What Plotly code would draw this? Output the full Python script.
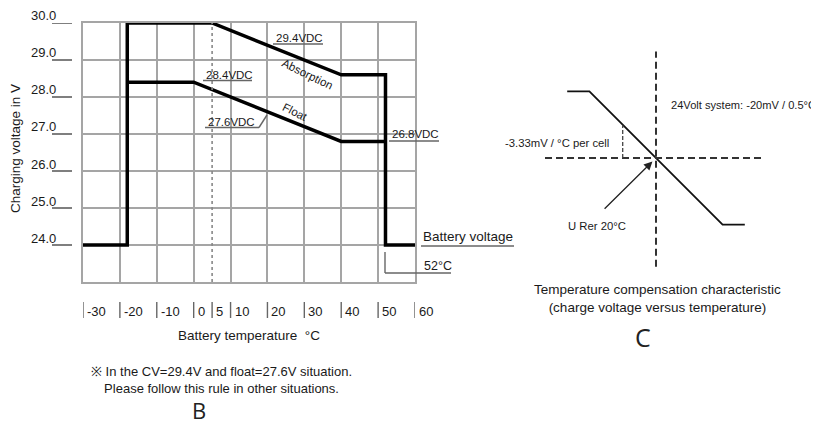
import plotly.graph_objects as go

# charging voltage vs battery temperature (chart B)
abs_temp = [-30, -18, -18, 5, 40, 52, 52, 60]
abs_volt = [24.0, 24.0, 30.0, 30.0, 28.6, 28.6, 24.0, 24.0]
float_temp = [-18, 0, 40, 52]
float_volt = [28.4, 28.4, 26.8, 26.8]
x_ticks = [-30, -20, -10, 0, 5, 10, 20, 30, 40, 50, 60]
y_ticks = [24.0, 25.0, 26.0, 27.0, 28.0, 29.0, 30.0]

# temperature compensation characteristic (chart C), mV per cell around 20 C
comp_temp = [-4, 2, 38, 44]
comp_mv = [60, 60, -60, -60]
ref_temp = 20

# the page body has an 8px margin, so the figure is drawn 8px in from the corner
OFF = 8
W, H = 819 - OFF, 427 - OFF
FONT = 'Liberation Sans, Arial, sans-serif'
TXT = '#1a1a1a'


def px(x):
    return (x - OFF) / W


def py(y):
    return 1 - (y - OFF) / H


fig = go.Figure()

fig.add_trace(go.Scatter(x=abs_temp, y=abs_volt, mode='lines',
                         line=dict(color='black', width=3.5), xaxis='x', yaxis='y'))
fig.add_trace(go.Scatter(x=float_temp, y=float_volt, mode='lines',
                         line=dict(color='black', width=3.5), xaxis='x', yaxis='y'))
fig.add_trace(go.Scatter(x=comp_temp, y=comp_mv, mode='lines',
                         line=dict(color='#111', width=1.8), xaxis='x2', yaxis='y2'))

shapes = []
annotations = []


def line(x0, y0, x1, y1, xref='paper', yref='paper', color='#666', width=1.4, dash='solid'):
    shapes.append(dict(type='line', x0=x0, y0=y0, x1=x1, y1=y1, xref=xref, yref=yref,
                       line=dict(color=color, width=width, dash=dash), layer='above'))


def text(t, x, y, size=11.5, xanchor='left', angle=0, xref='paper', yref='paper',
         color=TXT, family=FONT, yshift=0, xshift=0, yanchor='middle'):
    annotations.append(dict(text=t, x=x, y=y, xref=xref, yref=yref, xanchor=xanchor,
                            yanchor=yanchor, showarrow=False, textangle=angle,
                            yshift=yshift, xshift=xshift,
                            font=dict(size=size, color=color, family=family)))


# dotted 5 C reference line
line(5, 23, 5, 30, xref='x', yref='y', color='#888', width=1.6, dash='dot')

# y tick labels with underline
for v in y_ticks:
    text(f'{v:.1f}', px(58), v, size=13, xanchor='right', yref='y', yshift=7)
    line(px(52), v, px(72), v, yref='y', color='#555', width=1.5)

# x tick labels with bars
for t in x_ticks:
    line(t, py(318), t, py(302), xref='x', color='#666', width=1.4)
    text(str(t), t, py(311), size=13, xref='x', xshift=2)

text('Battery temperature  °C', px(249), py(335), size=13.5, xanchor='center')
text('Charging voltage in V', px(15), py(149), size=13.5, xanchor='center', angle=-90)

# labels on chart B
text('29.4VDC', px(274), py(38))
line(px(273), py(44), px(323), py(44))
text('Absorption', px(307), py(74), size=11.5, xanchor='center', angle=26)
text('28.4VDC', px(204), py(75))
line(px(203), py(80.5), px(252), py(80.5))
text('27.6VDC', px(206), py(122))
line(px(205), py(127.5), px(259), py(127.5))
line(px(259), py(127.5), px(267), py(115))
text('Float', px(295), py(112), size=11.5, xanchor='center', angle=27)
text('26.8VDC', px(390), py(134))
line(px(389), py(141), px(439), py(141))
text('Battery voltage', px(421), py(236), size=13.5)
line(px(421), py(246), px(514), py(246))
text('52°C', px(422), py(266), size=12.5)
line(px(385), py(252), px(385), py(273))
line(px(385), py(273), px(451), py(273))

text('※ In the CV=29.4V and float=27.6V situation.<br>Please follow this rule in other situations.',
     px(222), py(380), size=13, xanchor='center')
text('B', px(199), 0, size=22, xanchor='center', yanchor='bottom',
     family='Open Sans, sans-serif', color='#222')

# chart C decorations
line(ref_temp, -98, ref_temp, 96, xref='x2', yref='y2', color='#333', width=2, dash='7px,4px')
line(-10, 0, 49, 0, xref='x2', yref='y2', color='#333', width=2, dash='7px,4px')
line(11, 0, 11, 30, xref='x2', yref='y2', color='#444', width=1.3, dash='4px,2px')
text('24Volt system: -20mV / 0.5°C', px(669), py(105), size=11.1)
text('-3.33mV / °C per cell', px(611), py(143), size=11.3, xanchor='right')
text('U Rer 20°C', px(597), py(226), size=11.3, xanchor='center')
annotations.append(dict(x=ref_temp, y=0, xref='x2', yref='y2', ax=5.7, ay=-47,
                        axref='x2', ayref='y2', text='', showarrow=True, arrowhead=2,
                        arrowsize=1.3, arrowwidth=1.3, arrowcolor='#222', standoff=5))
text('Temperature compensation characteristic<br>(charge voltage versus temperature)',
     px(657), py(298), size=13.5, xanchor='center')
text('C', px(643), py(337), size=25, xanchor='center', family='Open Sans, sans-serif', color='#222')

grid = '#a5a5a5'
fig.update_layout(
    width=W, height=H,
    margin=dict(l=0, r=0, t=0, b=0),
    paper_bgcolor='white', plot_bgcolor='white',
    showlegend=False,
    xaxis=dict(domain=[px(83), px(415)], range=[-30, 60], dtick=10, tick0=0,
               showgrid=True, gridcolor=grid, gridwidth=1.5, zeroline=False,
               showline=True, mirror=True, linecolor=grid, linewidth=1.5,
               showticklabels=False, ticks=''),
    yaxis=dict(domain=[py(282), py(23)], range=[23, 30], dtick=1, tick0=23,
               showgrid=True, gridcolor=grid, gridwidth=1.5, zeroline=False,
               showline=True, mirror=True, linecolor=grid, linewidth=1.5,
               showticklabels=False, ticks=''),
    xaxis2=dict(domain=[px(545), px(767)], range=[-10, 50], visible=False, anchor='y2'),
    yaxis2=dict(domain=[py(269), py(47)], range=[-100, 100], visible=False, anchor='x2'),
    shapes=shapes,
    annotations=annotations,
)

fig.write_html('out.html')
